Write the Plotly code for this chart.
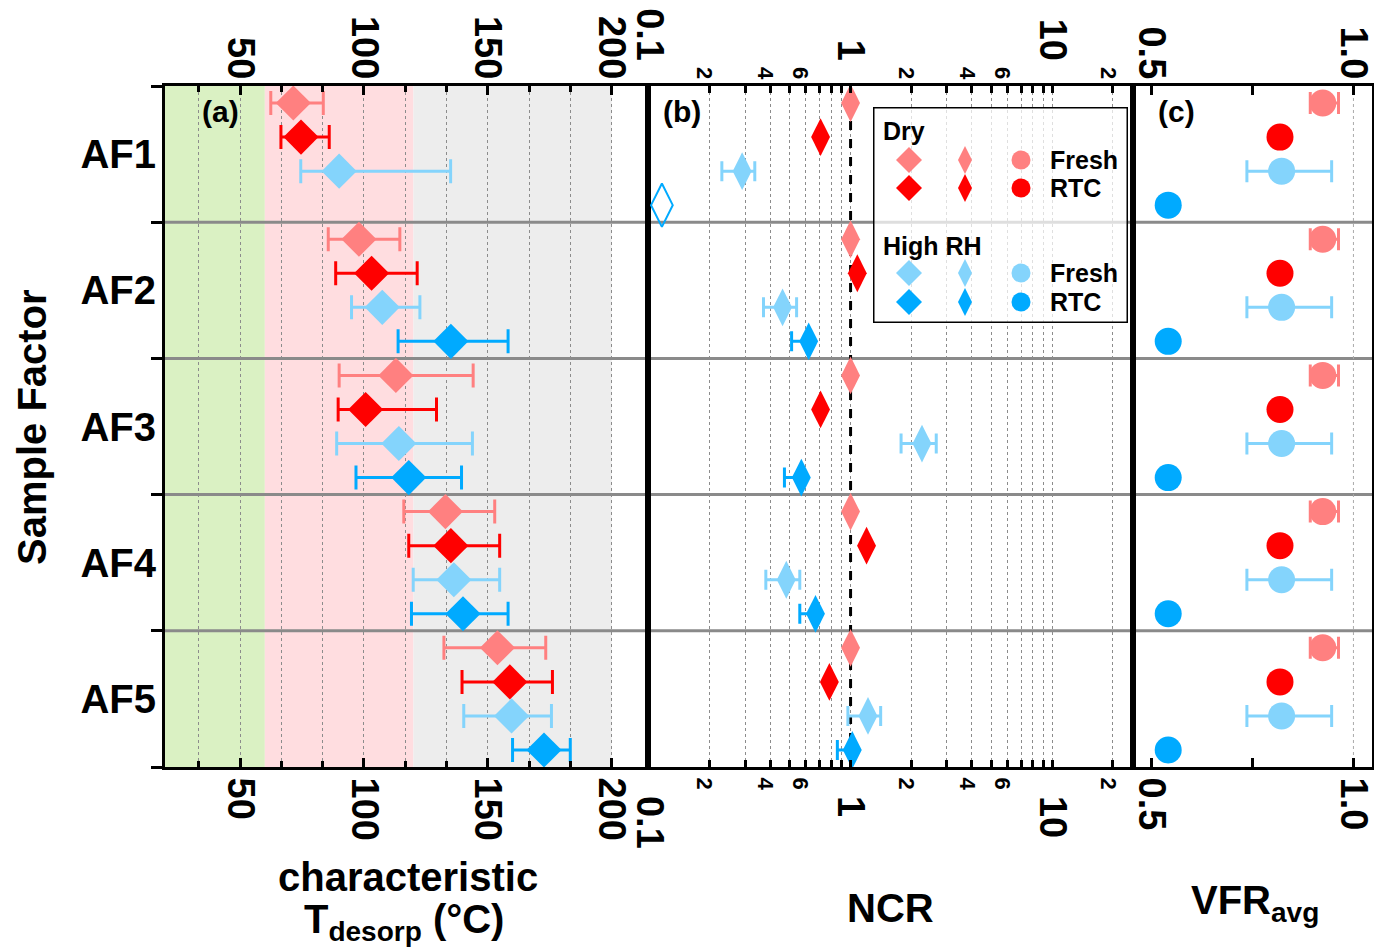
import plotly.graph_objects as go

W, H = 1374, 952
def px(x): return x / W
def py(y): return 1 - y / H

# ---------------- data ----------------
GROUPS = ["AF1", "AF2", "AF3", "AF4", "AF5"]
SLOTS = 4  # Dry Fresh, Dry RTC, High RH Fresh, High RH RTC

# (a) characteristic T_desorp (°C)
T_DRY_FRESH    = [71.5, 98.0, 112.9, 132.9, 153.9]
T_DRY_FRESH_LO = [62.4, 85.6, 90.0, 116.1, 132.3]
T_DRY_FRESH_HI = [83.6, 114.5, 144.1, 152.8, 173.4]
T_DRY_RTC      = [74.6, 103.1, 100.7, 135.1, 158.9]
T_DRY_RTC_LO   = [66.5, 88.6, 89.6, 118.1, 139.6]
T_DRY_RTC_HI   = [86.0, 121.5, 129.3, 154.8, 176.1]
T_RH_FRESH     = [90.0, 107.4, 114.1, 136.3, 159.6]
T_RH_FRESH_LO  = [74.5, 95.0, 89.0, 119.9, 140.3]
T_RH_FRESH_HI  = [135.0, 122.6, 143.8, 154.8, 175.7]
T_RH_RTC       = [None, 135.1, 118.1, 140.0, 172.7]
T_RH_RTC_LO    = [None, 113.8, 96.8, 119.2, 160.0]
T_RH_RTC_HI    = [None, 158.2, 139.4, 158.2, 183.3]

# (b) NCR
NCR_DRY_FRESH  = [1.0, 1.0, 1.0, 1.0, 1.0]
NCR_DRY_RTC    = [0.71, 1.08, 0.71, 1.20, 0.785]
NCR_RH_FRESH   = [0.29, 0.46, 2.26, 0.48, 1.22]
NCR_RH_FRESH_LO = [0.23, 0.37, 1.78, 0.38, 0.97]
NCR_RH_FRESH_HI = [0.335, 0.54, 2.66, 0.56, 1.41]
NCR_RH_RTC     = [None, 0.62, 0.57, 0.67, 1.02]
NCR_RH_RTC_LO  = [None, 0.51, 0.47, 0.56, 0.86]
NCR_RH_RTC_HI  = [None, 0.62, 0.57, 0.67, 1.02]
NCR_RH_RTC_OFFSCALE = [0.116, None, None, None, None]
NCR_REF = 1.0

# (c) VFR_avg
VFR_DRY_FRESH    = [0.924, 0.924, 0.924, 0.924, 0.924]
VFR_DRY_FRESH_LO = [0.893, 0.893, 0.893, 0.893, 0.893]
VFR_DRY_FRESH_HI = [0.963, 0.963, 0.963, 0.963, 0.963]
VFR_DRY_RTC      = [0.818, 0.818, 0.818, 0.818, 0.818]
VFR_RH_FRESH     = [0.822, 0.822, 0.822, 0.822, 0.822]
VFR_RH_FRESH_LO  = [0.736, 0.736, 0.736, 0.736, 0.736]
VFR_RH_FRESH_HI  = [0.946, 0.946, 0.946, 0.946, 0.946]
VFR_RH_RTC       = [0.541, 0.541, 0.541, 0.541, 0.541]
VFR_REF = 1.0

# T_desorp shaded bands
BAND_EDGES = [19.7, 60, 120, 200]
BAND_COLORS = ["#DAF1C3", "#FFDDE0", "#EDEDED"]

# ticks
T_TICKVALS = [50, 100, 150, 200]
NCR_TICKVALS = [0.1, 0.2, 0.3, 0.4, 0.5, 0.6, 0.7, 0.8, 0.9,
                1, 2, 3, 4, 5, 6, 7, 8, 9, 10, 20]
NCR_BIG = {0.1: "0.1", 1: "1", 10: "10"}
NCR_SMALL = {0.2: "2", 0.4: "4", 0.6: "6", 2: "2", 4: "4", 6: "6", 20: "2"}
VFR_TICKVALS = [0.5, 1.0]
VFR_TICKTEXT = ["0.5", "1.0"]

COL_DRY_FRESH = "#FF8080"
COL_DRY_RTC = "#FF0000"
COL_RH_FRESH = "#84D4FC"
COL_RH_RTC = "#00AAFF"

FONT = "Arial, Liberation Sans, sans-serif"

# ---------------- figure ----------------
fig = go.Figure()

def slot_y(slot):
    return [g * SLOTS + slot + 0.5 for g in range(len(GROUPS))]

def add_series(vals, lo, hi, slot, color, symbol, size, xa, ya, cap=12, line=None):
    ys_all = slot_y(slot)
    xs, ys, plus, minus = [], [], [], []
    for i, v in enumerate(vals):
        if v is None:
            continue
        xs.append(v)
        ys.append(ys_all[i])
        if lo is not None:
            minus.append(v - lo[i])
            plus.append(hi[i] - v)
    err = None
    if lo is not None:
        err = dict(type="data", symmetric=False, array=plus, arrayminus=minus,
                   color=color, thickness=3, width=cap)
    marker = dict(color=color, symbol=symbol, size=size, line=dict(width=0))
    if line is not None:
        marker["line"] = line
    fig.add_trace(go.Scatter(x=xs, y=ys, mode="markers", marker=marker,
                             error_x=err, xaxis=xa, yaxis=ya, showlegend=False,
                             cliponaxis=False))

# panel (a)  (last series sits on the top twin axis so that axis is drawn)
add_series(T_DRY_FRESH, T_DRY_FRESH_LO, T_DRY_FRESH_HI, 0, COL_DRY_FRESH, "diamond", 27, "x", "y")
add_series(T_DRY_RTC, T_DRY_RTC_LO, T_DRY_RTC_HI, 1, COL_DRY_RTC, "diamond", 27, "x", "y")
add_series(T_RH_FRESH, T_RH_FRESH_LO, T_RH_FRESH_HI, 2, COL_RH_FRESH, "diamond", 27, "x", "y")
add_series(T_RH_RTC, T_RH_RTC_LO, T_RH_RTC_HI, 3, COL_RH_RTC, "diamond", 27, "x4", "y")

# panel (b)
add_series(NCR_DRY_FRESH, None, None, 0, COL_DRY_FRESH, "diamond-tall", 27, "x2", "y2")
add_series(NCR_DRY_RTC, None, None, 1, COL_DRY_RTC, "diamond-tall", 27, "x2", "y2")
add_series(NCR_RH_FRESH, NCR_RH_FRESH_LO, NCR_RH_FRESH_HI, 2, COL_RH_FRESH, "diamond-tall", 27, "x2", "y2", cap=10)
add_series(NCR_RH_RTC, NCR_RH_RTC_LO, NCR_RH_RTC_HI, 3, COL_RH_RTC, "diamond-tall", 27, "x2", "y2", cap=10)
add_series(NCR_RH_RTC_OFFSCALE, None, None, 3, COL_RH_RTC, "diamond-tall-open", 31, "x5", "y2",
           line=dict(color=COL_RH_RTC, width=2))

# panel (c)
add_series(VFR_DRY_FRESH, VFR_DRY_FRESH_LO, VFR_DRY_FRESH_HI, 0, COL_DRY_FRESH, "circle", 27, "x3", "y3", cap=11)
add_series(VFR_DRY_RTC, None, None, 1, COL_DRY_RTC, "circle", 27, "x3", "y3")
add_series(VFR_RH_FRESH, VFR_RH_FRESH_LO, VFR_RH_FRESH_HI, 2, COL_RH_FRESH, "circle", 27, "x3", "y3", cap=11)
add_series(VFR_RH_RTC, None, None, 3, COL_RH_RTC, "circle", 27, "x6", "y3")

# ---------------- legend box (own hidden axes) ----------------
LEG_ROWS = [("Dry", COL_DRY_FRESH, COL_DRY_RTC, 24, 53, 81),
            ("High RH", COL_RH_FRESH, COL_RH_RTC, 139, 166, 195)]
LEG_COLS = [("diamond", 20, 36), ("diamond-tall", 20, 92), ("circle", 19, 148)]
fig.add_trace(go.Scatter(x=[0, 255, 255, 0, 0], y=[0, 0, 216, 216, 0], mode="lines",
                         fill="toself", fillcolor="rgba(255,255,255,0.72)",
                         line=dict(color="black", width=3), xaxis="x7", yaxis="y7",
                         showlegend=False, hoverinfo="skip"))
for title, c1, c2, ty, r1, r2 in LEG_ROWS:
    for sym, sz, cx in LEG_COLS:
        fig.add_trace(go.Scatter(x=[cx, cx], y=[r1, r2], mode="markers",
                                 marker=dict(symbol=sym, size=sz, color=[c1, c2], line=dict(width=0)),
                                 xaxis="x7", yaxis="y7", showlegend=False, cliponaxis=False))

# ---------------- axes ----------------
tick_font = dict(family=FONT, size=38, color="black", weight="bold")
grid = dict(showgrid=True, gridcolor="#8c8c8c", gridwidth=1, griddash="dot")
frame = dict(showline=True, linecolor="black", linewidth=3, mirror=True, zeroline=False,
             automargin=False)

XA_DOM = [px(165), px(648.3)]
XB_DOM = [px(648.3), px(1132.7)]
XC_DOM = [px(1132.7), px(1372)]
Y_DOM = [py(767), py(86)]
XA_RANGE = [19.7, 214.8]
XB_RANGE = [-1.003, 1.399]
XC_RANGE = [0.453, 1.046]

a_ticks = dict(tickmode="array", tickvals=T_TICKVALS, ticks="inside", ticklen=9, tickwidth=3,
               tickcolor="black", tickangle=90, tickfont=tick_font,
               range=XA_RANGE, ticklabeloverflow="allow")
a_minor = dict(tickmode="linear", tick0=0, dtick=50 / 3, ticks="inside", ticklen=6, tickwidth=2.5,
               tickcolor="black")

PAD = "<span style='font-size:22px'>\u00a0\u00a0\u00a0</span>"
def ncr_labels(top):
    out = []
    for v in NCR_TICKVALS:
        if v in NCR_BIG:
            out.append(NCR_BIG[v] + PAD if top else PAD + NCR_BIG[v])
        elif v in NCR_SMALL:
            out.append("<span style='font-size:22px'>%s</span>" % NCR_SMALL[v])
        else:
            out.append(" ")
    return out

b_ticks = dict(type="log", range=XB_RANGE, tickmode="array", tickvals=NCR_TICKVALS,
               ticks="inside", ticklen=7, tickwidth=2.5, tickcolor="black", tickangle=90,
               tickfont=tick_font, ticklabeloverflow="allow")
c_ticks = dict(range=XC_RANGE, tickmode="array", tickvals=VFR_TICKVALS, ticktext=VFR_TICKTEXT,
               ticks="inside", ticklen=9, tickwidth=3, tickcolor="black", tickangle=90,
               tickfont=tick_font, ticklabeloverflow="allow")
c_minor = dict(tickmode="linear", tick0=0, dtick=0.25, ticks="inside", ticklen=9, tickwidth=2.5,
               tickcolor="black")

layout = dict(
    width=W, height=H, autosize=False, margin=dict(l=0, r=0, t=0, b=0, autoexpand=False),
    paper_bgcolor="white", plot_bgcolor="rgba(0,0,0,0)",
    font=dict(family=FONT, color="black"),
    showlegend=False,
    xaxis=dict(domain=XA_DOM, anchor="y", **a_ticks, **grid, **frame,
               minor=dict(**a_minor, showgrid=True, gridcolor="#8c8c8c", griddash="dot", gridwidth=1)),
    xaxis4=dict(overlaying="x", side="top", anchor="y", **a_ticks, showgrid=False,
                minor=a_minor, showline=False, zeroline=False, automargin=False),
    xaxis2=dict(domain=XB_DOM, anchor="y2", **b_ticks, ticktext=ncr_labels(False), **grid, **frame),
    xaxis5=dict(overlaying="x2", side="top", anchor="y2", **b_ticks, ticktext=ncr_labels(True),
                showgrid=False, showline=False, zeroline=False, automargin=False),
    xaxis3=dict(domain=XC_DOM, anchor="y3", **c_ticks, showgrid=False, **frame, minor=c_minor),
    xaxis6=dict(overlaying="x3", side="top", anchor="y3", **c_ticks, showgrid=False,
                showline=False, zeroline=False, minor=c_minor, automargin=False),
    yaxis=dict(domain=Y_DOM, anchor="x", range=[20, 0], tickmode="array",
               tickvals=[g * SLOTS + SLOTS / 2 for g in range(len(GROUPS))], ticktext=GROUPS,
               ticks="", tickfont=dict(family=FONT, size=40, color="black", weight="bold"),
               ticklabelstandoff=-2, showgrid=False, **frame,
               minor=dict(tickmode="linear", tick0=0, dtick=SLOTS, ticks="outside", ticklen=11,
                          tickwidth=2.5, tickcolor="black", showgrid=False)),
    yaxis2=dict(domain=Y_DOM, anchor="x2", range=[20, 0], showticklabels=False, ticks="",
                showgrid=False, **frame),
    yaxis3=dict(domain=Y_DOM, anchor="x3", range=[20, 0], showticklabels=False, ticks="",
                showgrid=False, **frame),
    xaxis7=dict(domain=[px(873), px(1128)], anchor="y7", range=[0, 255], visible=False, automargin=False),
    yaxis7=dict(domain=[py(323), py(107)], anchor="x7", range=[216, 0], visible=False, automargin=False),
)
fig.update_layout(**layout)

# ---------------- shapes ----------------
shapes = []
for i, col in enumerate(BAND_COLORS):
    shapes.append(dict(type="rect", xref="x", yref="y domain", x0=BAND_EDGES[i], x1=BAND_EDGES[i + 1],
                       y0=0, y1=1, fillcolor=col, line=dict(width=0), layer="below"))
for xa, ya in [("x", "y"), ("x2", "y2"), ("x3", "y3")]:
    for g in range(1, len(GROUPS)):
        shapes.append(dict(type="line", xref=xa + " domain", yref=ya, x0=0, x1=1,
                           y0=g * SLOTS, y1=g * SLOTS, line=dict(color="#8a8a8a", width=3),
                           layer="below"))
shapes.append(dict(type="line", xref="x2", yref="y2", x0=NCR_REF, x1=NCR_REF, y0=0.5, y1=SLOTS * len(GROUPS),
                   line=dict(color="black", width=3, dash="dash"), layer="between"))
shapes.append(dict(type="line", xref="x3", yref="y3 domain", x0=VFR_REF, x1=VFR_REF, y0=0, y1=1,
                   line=dict(color="#aaaaaa", width=1, dash="dot"), layer="below"))
fig.update_layout(shapes=shapes)

# ---------------- annotations ----------------
ann = []
def txt(text, x, y, size, xanchor="center", yanchor="middle", angle=0, xref="paper", yref="paper"):
    ann.append(dict(text=text, x=x, y=y, xref=xref, yref=yref, showarrow=False,
                    xanchor=xanchor, yanchor=yanchor, textangle=angle,
                    font=dict(family=FONT, size=size, color="black", weight="bold")))

txt("(a)", px(220), py(111), 30)
txt("(b)", px(682), py(111), 30)
txt("(c)", px(1176), py(111), 30)
txt("Sample Factor", px(32), py(427), 40, angle=-90)
txt("characteristic", px(408), py(877), 40)
txt("T<sub>desorp</sub> (°C)", px(404), py(895), 40, yanchor="top")
txt("NCR", px(890), py(908), 40)
txt("VFR<sub>avg</sub>", px(1255), py(903), 40)
for title, c1, c2, ty, r1, r2 in LEG_ROWS:
    txt(title, 8, ty, 25, xanchor="left", xref="x7", yref="y7")
    txt("Fresh", 175, r1, 25, xanchor="left", xref="x7", yref="y7")
    txt("RTC", 175, r2, 25, xanchor="left", xref="x7", yref="y7")
fig.update_layout(annotations=ann)

POST = ("document.body.style.margin='0px';document.body.style.padding='0px';"
        "document.body.style.overflow='hidden';"
        "var gd=document.getElementById('{plot_id}');"
        "gd.style.width='1374px';gd.style.height='952px';"
        "Plotly.relayout(gd,{width:1374,height:952});")
fig.write_html("out.html", post_script=POST,
               config={"responsive": False, "displayModeBar": False})
